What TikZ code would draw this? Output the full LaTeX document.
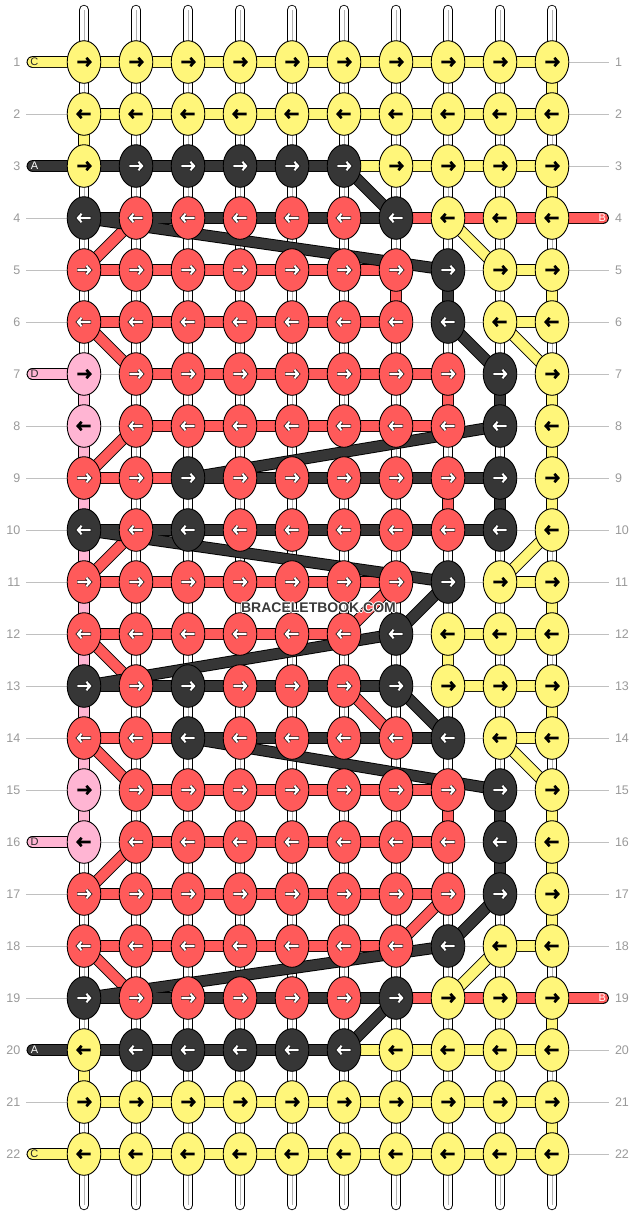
\documentclass[tikz,border=0pt]{standalone}
\usepackage{fontspec}
\setmainfont{Liberation Sans}
\usetikzlibrary{shapes.geometric}
\pgfdeclarelayer{rowl}
\pgfdeclarelayer{warp}
\pgfdeclarelayer{conn}
\pgfsetlayers{rowl,warp,conn,main}
\definecolor{cY}{HTML}{FFF67A}
\definecolor{cK}{HTML}{363636}
\definecolor{cR}{HTML}{FF5A5A}
\definecolor{cP}{HTML}{FFB5D3}
\definecolor{numgray}{HTML}{9A9A9A}
\definecolor{linegray}{HTML}{C0C0C0}
\definecolor{wmgray}{HTML}{3A3A3A}
\newcommand\wmhalo[1]{\leavevmode\rlap{\textcolor{white}{\kern1.1pt#1}}\rlap{\textcolor{white}{\kern-1.1pt#1}}\rlap{\textcolor{white}{\raisebox{1.1pt}{#1}}}\rlap{\textcolor{white}{\raisebox{-1.1pt}{#1}}}#1}
\tikzset{
  knot/.style={ellipse, draw=black, line width=0.9pt, minimum width=33.6pt, minimum height=42.6pt, inner sep=0pt},
  strand/.style={draw=black, line width=0.9pt, double distance=10pt, line cap=round, line join=round},
  sY/.style={strand, double=cY},
  sK/.style={strand, double=cK},
  sR/.style={strand, double=cR},
  sP/.style={strand, double=cP},
  warpstr/.style={draw=black, line width=0.9pt, double=white, double distance=8.6pt, line cap=round},
  warpmid/.style={draw=black!30, line width=0.8pt},
  rowline/.style={draw=linegray, line width=1pt},
  numl/.style={anchor=east, inner sep=0pt, text=numgray, font=\fontsize{12.5}{14}\selectfont},
  numr/.style={anchor=west, inner sep=0pt, text=numgray, font=\fontsize{12.5}{14}\selectfont},
  stublab/.style={inner sep=0pt, font=\fontsize{11}{13}\selectfont},
  wmark/.style={inner sep=0pt, text=wmgray, font=\bfseries\fontsize{14}{16}\selectfont},
  aoY/.style={draw=none}, aiY/.style={draw=black, line width=2.6pt},
  aoP/.style={draw=none}, aiP/.style={draw=black, line width=2.6pt},
  aoK/.style={draw=black, line width=3.4pt}, aiK/.style={draw=white, line width=2.1pt},
  aoR/.style={draw=black, line width=3.4pt}, aiR/.style={draw=white, line width=2.1pt},
  pics/karrow/.style={code={
    \path[ao#1, line cap=butt, line join=miter] (-7,0) -- (6,0) (2.4,-4.2) -- (6.2,0) -- (2.4,4.2);
    \path[ai#1, line cap=butt, line join=miter] (-6.6,0) -- (6,0) (2.4,-4.2) -- (6.2,0) -- (2.4,4.2);
  }}
}
\begin{document}
\begin{tikzpicture}[x=1pt,y=-1pt]
\useasboundingbox (0,0) rectangle (636,1216);
\begin{pgfonlayer}{rowl}
\fill[white] (0,0) rectangle (636,1216);
\end{pgfonlayer}
% knots
\foreach \r/\cols in {
1/{Y,Y,Y,Y,Y,Y,Y,Y,Y,Y},
2/{Y,Y,Y,Y,Y,Y,Y,Y,Y,Y},
3/{Y,K,K,K,K,K,Y,Y,Y,Y},
4/{K,R,R,R,R,R,K,Y,Y,Y},
5/{R,R,R,R,R,R,R,K,Y,Y},
6/{R,R,R,R,R,R,R,K,Y,Y},
7/{P,R,R,R,R,R,R,R,K,Y},
8/{P,R,R,R,R,R,R,R,K,Y},
9/{R,R,K,R,R,R,R,R,K,Y},
10/{K,R,K,R,R,R,R,R,K,Y},
11/{R,R,R,R,R,R,R,K,Y,Y},
12/{R,R,R,R,R,R,K,Y,Y,Y},
13/{K,R,K,R,R,R,K,Y,Y,Y},
14/{R,R,K,R,R,R,R,K,Y,Y},
15/{P,R,R,R,R,R,R,R,K,Y},
16/{P,R,R,R,R,R,R,R,K,Y},
17/{R,R,R,R,R,R,R,R,K,Y},
18/{R,R,R,R,R,R,R,K,Y,Y},
19/{K,R,R,R,R,R,K,Y,Y,Y},
20/{Y,K,K,K,K,K,Y,Y,Y,Y},
21/{Y,Y,Y,Y,Y,Y,Y,Y,Y,Y},
22/{Y,Y,Y,Y,Y,Y,Y,Y,Y,Y}}{
  \ifodd\r \def\dir{1}\else\def\dir{-1}\fi
  \foreach \k [count=\c] in \cols {
    \node[knot, fill=c\k] (k-\r-\c) at ({84+52*(\c-1)},{62+52*(\r-1)}) {};
    \pic[xscale=\dir] at (k-\r-\c) {karrow=\k};
  }
  \node[numl] (ln-\r) at (20.5,{62+52*(\r-1)}) {\r};
  \node[numr] (rn-\r) at (614.8,{62+52*(\r-1)}) {\r};
  \coordinate (rl-\r) at (26,{62+52*(\r-1)});
  \coordinate (rr-\r) at (609,{62+52*(\r-1)});
}
% row lines and warp strings
\begin{pgfonlayer}{rowl}
\foreach \r in {1,...,22}{\draw[rowline] (rl-\r) -- (rr-\r);}
\end{pgfonlayer}
\foreach \c in {1,...,10}{
  \coordinate (wt-\c) at ({84+52*(\c-1)},10);
  \coordinate (wb-\c) at ({84+52*(\c-1)},1205);
}
\begin{pgfonlayer}{warp}
\foreach \c in {1,...,10}{
  \draw[warpstr] (wt-\c) -- (wb-\c);
  \draw[warpmid] (wt-\c) -- (wb-\c);
}
\end{pgfonlayer}
% string ends
\coordinate (sC1) at (32.5,62);
\coordinate (sC2) at (32.5,1154);
\coordinate (sA1) at (32.5,166);
\coordinate (sA2) at (32.5,1050);
\coordinate (sD1) at (32.5,374);
\coordinate (sD2) at (32.5,842);
\coordinate (sB1) at (603,218);
\coordinate (sB2) at (603,998);
\begin{pgfonlayer}{conn}
% C (yellow)
\draw[sY] (sC1) -- (k-1-1.center) -- (k-1-10.center) -- (k-2-10.center) -- (k-2-1.center) -- (k-3-1.center) -- (k-3-10.center) -- (k-4-10.center) -- (k-4-8.center) -- (k-5-9.center) -- (k-5-10.center) -- (k-6-10.center) -- (k-6-9.center) -- (k-7-10.center) -- (k-10-10.center) -- (k-11-9.center) -- (k-11-10.center) -- (k-12-10.center) -- (k-12-8.center) -- (k-13-8.center) -- (k-13-10.center) -- (k-14-10.center) -- (k-14-9.center) -- (k-15-10.center) -- (k-18-10.center) -- (k-18-9.center) -- (k-19-8.center) -- (k-19-10.center) -- (k-20-10.center) -- (k-20-1.center) -- (k-21-1.center) -- (k-21-10.center) -- (k-22-10.center) -- (k-22-1.center) -- (sC2);
% D (pink)
\draw[sP] (sD1) -- (k-7-1.center) -- (k-16-1.center) -- (sD2);
% B (red)
\draw[sR] (sB1) -- (k-4-2.center) -- (k-5-1.center) -- (k-5-7.center) -- (k-6-7.center) -- (k-6-1.center) -- (k-7-2.center) -- (k-7-8.center) -- (k-8-8.center) -- (k-8-2.center) -- (k-9-1.center) -- (k-9-8.center) -- (k-10-8.center) -- (k-10-2.center) -- (k-11-1.center) -- (k-11-7.center) -- (k-12-6.center) -- (k-12-1.center) -- (k-13-2.center) -- (k-13-6.center) -- (k-14-7.center) -- (k-14-1.center) -- (k-15-2.center) -- (k-15-8.center) -- (k-16-8.center) -- (k-16-2.center) -- (k-17-1.center) -- (k-17-8.center) -- (k-18-7.center) -- (k-18-1.center) -- (k-19-2.center) -- (sB2);
% A (dark)
\draw[sK] (sA1) -- (k-3-6.center) -- (k-4-7.center) -- (k-4-1.center) -- (k-5-8.center) -- (k-6-8.center) -- (k-7-9.center) -- (k-8-9.center) -- (k-9-3.center) -- (k-9-9.center) -- (k-10-9.center) -- (k-10-1.center) -- (k-11-8.center) -- (k-12-7.center) -- (k-13-1.center) -- (k-13-7.center) -- (k-14-8.center) -- (k-14-3.center) -- (k-15-9.center) -- (k-17-9.center) -- (k-18-8.center) -- (k-19-1.center) -- (k-19-7.center) -- (k-20-6.center) -- (sA2);
\end{pgfonlayer}
% string labels
\node[stublab, text=black!85] (lC1) at (34.3,62) {C};
\node[stublab, text=black!85] (lC2) at (34.3,1154) {C};
\node[stublab, text=white] (lA1) at (34.5,166) {A};
\node[stublab, text=white] (lA2) at (34.5,1050) {A};
\node[stublab, text=black!85] (lD1) at (34.5,374) {D};
\node[stublab, text=black!85] (lD2) at (34.5,842) {D};
\node[stublab, text=white] (lB1) at (602.3,218) {B};
\node[stublab, text=white] (lB2) at (602.3,998) {B};
% watermark
\node[wmark] (wm) at (318.5,607.7) {\wmhalo{BRACELETBOOK.COM}};
\end{tikzpicture}
\end{document}
